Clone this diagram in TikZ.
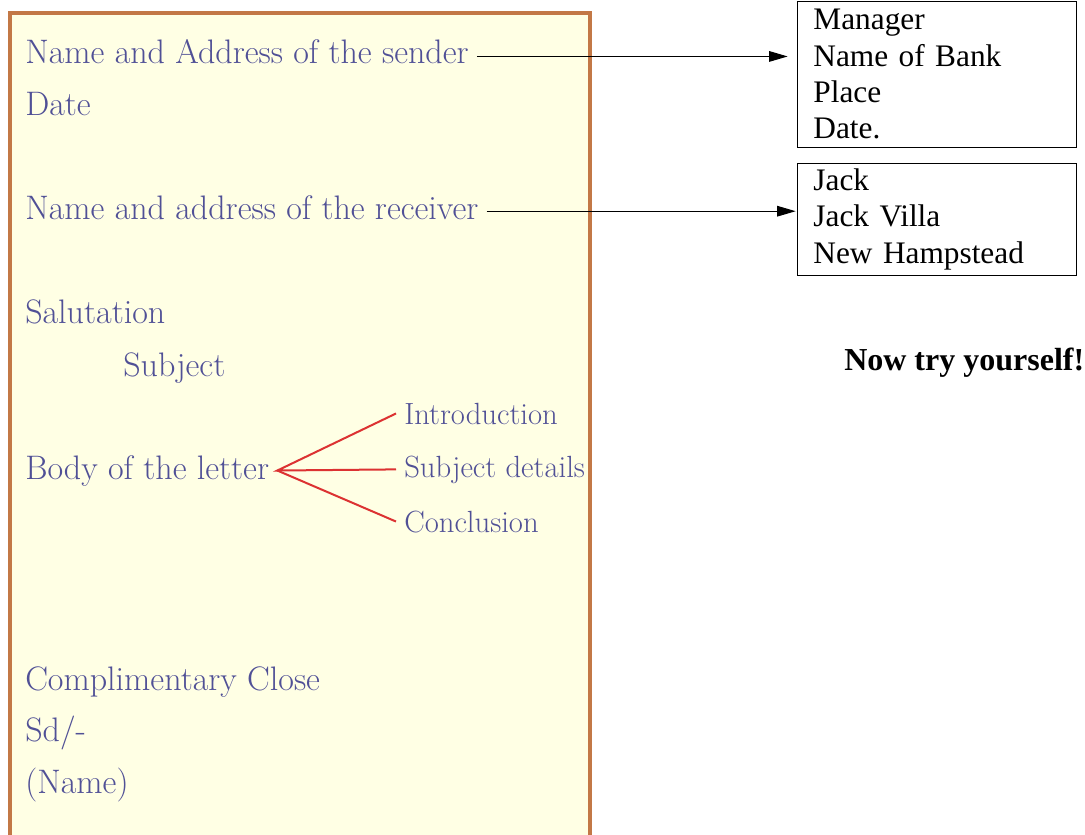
\documentclass[tikz,border=0pt]{standalone}
\usepackage{fontspec}
\newfontfamily\boxfont{Liberation Serif}
\usetikzlibrary{positioning,arrows.meta}

\definecolor{inkblue}{RGB}{80,80,150}
\definecolor{framebrown}{RGB}{195,120,70}
\definecolor{paper}{RGB}{255,255,228}
\definecolor{forkred}{RGB}{220,50,50}

\tikzset{
  lettertext/.style={anchor=base west, inner xsep=6pt, inner ysep=2pt,
    text=inkblue, font=\fontsize{25.5}{28}\selectfont},
  branchtext/.style={lettertext, font=\fontsize{23}{26}\selectfont},
  addrbox/.style={draw, line width=0.6pt, anchor=north west, align=left,
    text width=185pt, inner xsep=12pt, inner ysep=6pt,
    font=\boxfont\fontsize{23.5}{27.2}\selectfont},
  pointer/.style={-{Triangle[length=14pt,width=8pt]}, line width=0.8pt},
  forkline/.style={forkred, line width=1.5pt}
}

\begin{document}
\begin{tikzpicture}[x=0.75pt,y=-0.75pt]
    \clip (0,0) rectangle (1085,835);
    \draw[framebrown, fill=paper, line width=2.5pt] (10,13) rectangle (590,850);

    \node[lettertext] (sender) at (17,63) {Name and Address of the sender};
    \node[lettertext] (date) at (17,115) {Date};
    \node[lettertext] (receiver) at (17,219) {Name and address of the receiver};
    \node[lettertext] (salute) at (17,323) {Salutation};
    \node[lettertext] (subject) at (115,376) {Subject};
    \node[lettertext] (body) at (17,479) {Body of the letter};
    \node[branchtext] (intro) at (396,424) {Introduction};
    \node[branchtext] (details) at (396,477) {Subject details};
    \node[branchtext] (closing) at (396,532) {Conclusion};
    \node[lettertext] (compclose) at (17,690) {Complimentary Close};
    \node[lettertext] (signed) at (17,741) {Sd/-};
    \node[lettertext] (signame) at (17,793) {(Name)};

    \draw[forkline] (intro.west) -- (body.east) -- (details.west);
    \draw[forkline] (body.east) -- (closing.west);

    \node[addrbox] (bankbox) at (797,1) {Manager\\Name of Bank\\Place\\Date.};
    \node[addrbox, inner ysep=4pt] (jackbox) at (797,163) {Jack\\Jack Villa\\New Hampstead};

    \draw[pointer, shorten >=7pt] ([yshift=-4pt]sender.east) -- ([yshift=-4pt]sender.east -| bankbox.west);
    \draw[pointer, shorten >=1pt] ([yshift=-3pt]receiver.east) -- ([yshift=-3pt]receiver.east -| jackbox.west);

    \node[anchor=base west, inner sep=0pt, font=\boxfont\bfseries\fontsize{24}{28}\selectfont]
      (tryit) at (844,370) {Now try yourself!};
\end{tikzpicture}
\end{document}
